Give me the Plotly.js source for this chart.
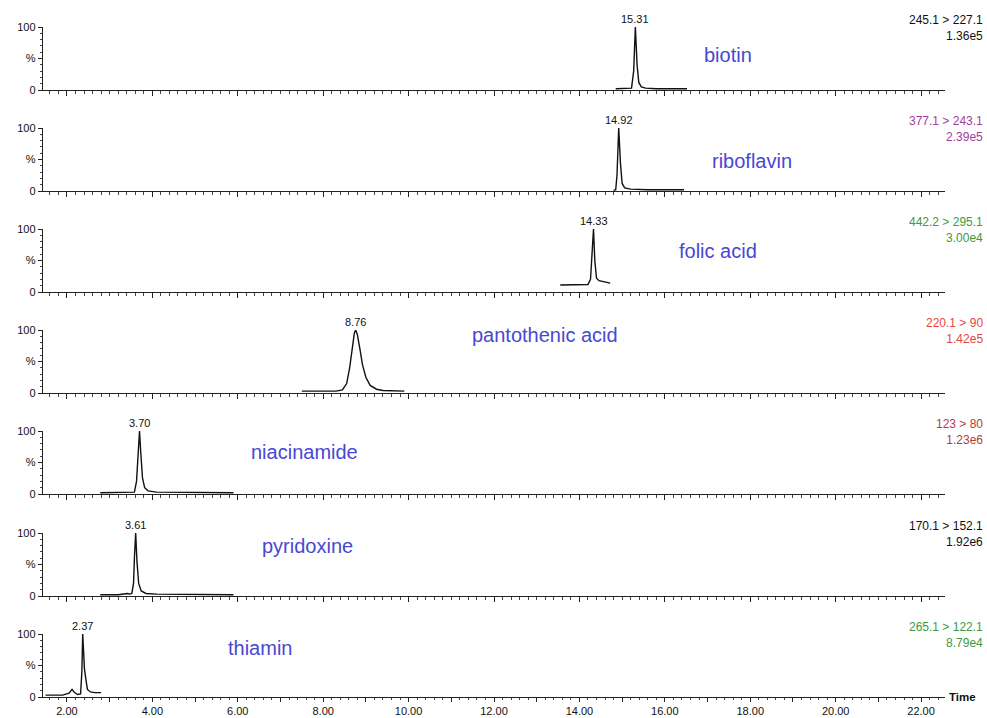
<!DOCTYPE html>
<html>
<head>
<meta charset="utf-8">
<script src="https://cdn.plot.ly/plotly-3.0.1.min.js"></script>
<style>
  html, body { margin: 0; padding: 0; background: #fff; }
  #chart { width: 987px; height: 718px; }
</style>
</head>
<body>
<div id="chart"></div>
<script>
// Compounds, top panel first
const compounds = ['biotin', 'riboflavin', 'folic acid', 'pantothenic acid', 'niacinamide', 'pyridoxine', 'thiamin'];
const peakTimes = [15.31, 14.92, 14.33, 8.76, 3.70, 3.61, 2.37];
const transitions = ['245.1 > 227.1', '377.1 > 243.1', '442.2 > 295.1', '220.1 > 90', '123 > 80', '170.1 > 152.1', '265.1 > 122.1'];
const intensities = ['1.36e5', '2.39e5', '3.00e4', '1.42e5', '1.23e6', '1.92e6', '8.79e4'];

// Chromatogram traces: retention time (min) and relative response (%)
const biotinTime = [14.85, 15.10, 15.22, 15.27, 15.31, 15.35, 15.39, 15.45, 15.55, 15.80, 16.52];
const biotinResp = [2, 2, 3, 30, 100, 40, 12, 5, 3, 2, 2];

const riboflavinTime = [14.80, 14.85, 14.88, 14.92, 14.96, 15.00, 15.06, 15.20, 15.60, 16.45];
const riboflavinResp = [1, 2, 25, 100, 45, 12, 5, 3, 2, 2];

const folicTime = [13.55, 13.90, 14.20, 14.26, 14.30, 14.33, 14.36, 14.40, 14.46, 14.56, 14.72];
const folicResp = [11, 11, 12, 20, 60, 100, 50, 22, 18, 16, 14];

const pantothenicTime = [7.50, 8.30, 8.45, 8.55, 8.62, 8.68, 8.73, 8.76, 8.80, 8.86, 8.92, 9.00, 9.10, 9.25, 9.40, 9.90];
const pantothenicResp = [3, 3, 5, 15, 40, 75, 95, 100, 93, 70, 45, 25, 12, 6, 4, 3];

const niacinamideTime = [2.78, 3.40, 3.58, 3.63, 3.67, 3.70, 3.73, 3.77, 3.82, 3.90, 4.10, 5.90];
const niacinamideResp = [2, 2, 3, 20, 70, 100, 65, 25, 10, 5, 3, 2];

const pyridoxineTime = [2.78, 3.20, 3.42, 3.47, 3.52, 3.56, 3.58, 3.61, 3.64, 3.68, 3.74, 3.85, 4.10, 5.90];
const pyridoxineResp = [2, 2, 4, 3, 4, 20, 60, 100, 55, 20, 8, 4, 3, 2];

const thiaminTime = [1.50, 1.90, 2.05, 2.12, 2.18, 2.25, 2.32, 2.35, 2.37, 2.39, 2.41, 2.44, 2.48, 2.55, 2.65, 2.80];
const thiaminResp = [3, 3, 6, 12, 7, 4, 5, 40, 100, 60, 45, 30, 12, 8, 7, 7];

// Time axis tick labels (every 2 min; odd minutes unlabelled)
const timeTicks = [2, 3, 4, 5, 6, 7, 8, 9, 10, 11, 12, 13, 14, 15, 16, 17, 18, 19, 20, 21, 22];
const timeTickLabels = ['2.00', '', '4.00', '', '6.00', '', '8.00', '', '10.00', '', '12.00', '', '14.00', '', '16.00', '', '18.00', '', '20.00', '', '22.00'];
const responseTicks = [0, 50, 100];
const responseTickLabels = ['0', '%', '100'];

const traceTimes = [biotinTime, riboflavinTime, folicTime, pantothenicTime, niacinamideTime, pyridoxineTime, thiaminTime];
const traceResps = [biotinResp, riboflavinResp, folicResp, pantothenicResp, niacinamideResp, pyridoxineResp, thiaminResp];

// Styling and placement
const channelColors = ['#111111', '#a23c9e', '#3c9a3c', '#ea4440', '#b43c3c', '#111111', '#3c9a3c'];
const nameColor = '#4848d4';
const namePlacement = [[17.48, 55], [18.04, 48], [17.25, 65], [13.20, 92], [7.57, 67], [7.64, 79], [6.52, 78]];
const panelPx = [[27, 90], [128, 191], [229, 292], [330, 393], [431, 494], [533, 596], [634, 697]];
const FONT = 'Liberation Sans, Arial, sans-serif';
const W = 987, H = 718, M = { l: 43, r: 42, t: 27, b: 21 };
const plotH = H - M.t - M.b;
const xRange = [1.44, 22.56];

const data = [];
const annotations = [];
const layout = {
  width: W, height: H,
  margin: M,
  paper_bgcolor: '#fff', plot_bgcolor: '#fff',
  showlegend: false,
  font: { family: FONT, size: 11, color: '#111' },
  annotations: annotations
};

compounds.forEach((name, i) => {
  const k = i + 1;
  const xa = k === 1 ? 'x' : 'x' + k;
  const ya = k === 1 ? 'y' : 'y' + k;
  const isBottom = i === compounds.length - 1;
  const [top, bot] = panelPx[i];

  data.push({
    type: 'scatter', mode: 'lines',
    x: traceTimes[i], y: traceResps[i],
    xaxis: xa, yaxis: ya,
    line: { color: '#111', width: 1.4 },
    hoverinfo: 'skip'
  });

  layout['xaxis' + (k === 1 ? '' : k)] = {
    anchor: ya,
    range: xRange,
    tickmode: 'array', tickvals: timeTicks, ticktext: timeTickLabels,
    showticklabels: isBottom,
    ticks: 'outside', ticklen: isBottom ? 4 : 5, tickwidth: 1, tickcolor: '#222',
    minor: { dtick: 0.2, tick0: 0, ticks: 'outside', ticklen: isBottom ? 2 : 3, tickwidth: 1, tickcolor: '#444', showgrid: false },
    showline: true, linecolor: '#222', linewidth: 1.2,
    showgrid: false, zeroline: false,
    tickfont: { family: FONT, size: 11, color: '#111' },
    fixedrange: true
  };

  layout['yaxis' + (k === 1 ? '' : k)] = {
    anchor: xa,
    domain: [(H - M.b - bot) / plotH, (H - M.b - top) / plotH],
    range: [0, 100],
    tickmode: 'array', tickvals: responseTicks, ticktext: responseTickLabels,
    ticks: 'outside', ticklen: 4, tickwidth: 1, tickcolor: '#222',
    minor: { dtick: 10, tick0: 0, ticks: 'outside', ticklen: 2, tickwidth: 1, tickcolor: '#444', showgrid: false },
    showline: true, linecolor: '#222', linewidth: 1.2,
    showgrid: false, zeroline: false,
    tickfont: { family: FONT, size: 11, color: '#111' },
    fixedrange: true
  };

  // retention time above the peak
  annotations.push({
    xref: xa, yref: ya, x: peakTimes[i], y: 100,
    text: peakTimes[i].toFixed(2), showarrow: false,
    xanchor: 'center', yanchor: 'bottom', yshift: 0,
    font: { family: FONT, size: 11, color: '#111' }
  });

  // compound name
  annotations.push({
    xref: xa, yref: ya, x: namePlacement[i][0], y: namePlacement[i][1],
    text: name, showarrow: false,
    xanchor: 'center', yanchor: 'middle',
    font: { family: FONT, size: 20, color: nameColor }
  });

  // MRM transition and base-peak intensity
  annotations.push({
    xref: 'paper', yref: ya, x: (985 - M.l) / (W - M.l - M.r), y: 98,
    text: transitions[i] + '<br>' + intensities[i], showarrow: false,
    xanchor: 'right', yanchor: 'middle', align: 'right',
    font: { family: FONT, size: 12, color: channelColors[i] }
  });
});

annotations.push({
  xref: 'paper', yref: 'paper', x: (947 - M.l) / (W - M.l - M.r), y: 0,
  text: '<b>Time</b>', showarrow: false,
  xanchor: 'left', yanchor: 'middle',
  font: { family: FONT, size: 11.5, color: '#111' }
});

Plotly.newPlot('chart', data, layout, { staticPlot: true, displayModeBar: false });
</script>
</body>
</html>
